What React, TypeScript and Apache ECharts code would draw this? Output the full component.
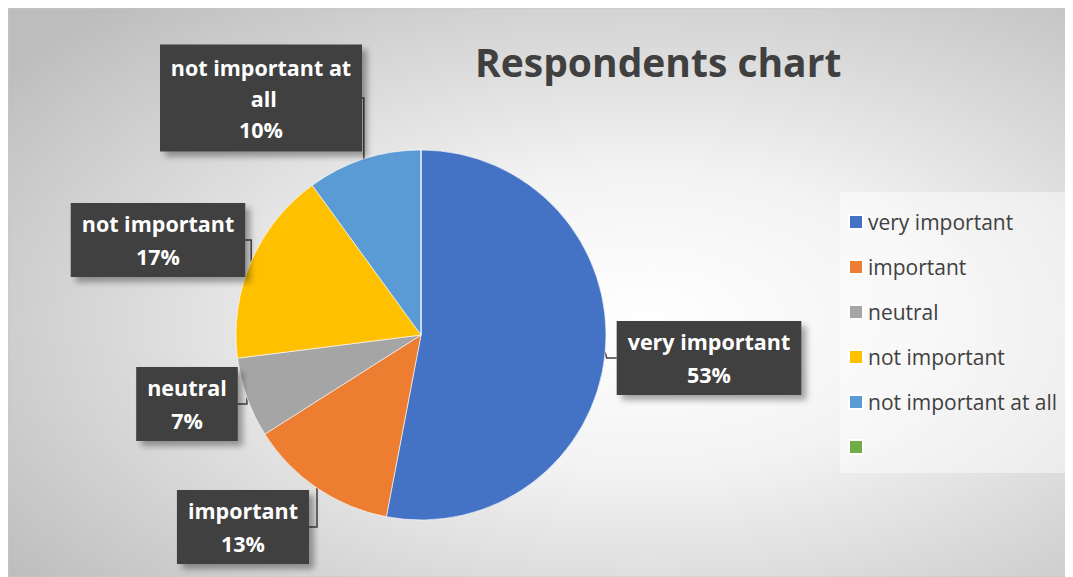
import React, { useEffect, useRef } from "react";
import * as echarts from "echarts";

const categories = ["very important", "important", "neutral", "not important", "not important at all", " "];
const values = [53, 13, 7, 17, 10, 0];
const colors = ["#4472C4", "#ED7D31", "#A5A5A5", "#FFC000", "#5B9BD5", "#70AD47"];
const titleText = "Respondents chart";

// label box centres (chart pixel coordinates)
const labelPos: [number, number][] = [
  [701, 350],
  [235, 519],
  [179, 396],
  [150, 232],
  [253, 90],
];

export default function App() {
  const ref = useRef<HTMLDivElement>(null);
  useEffect(() => {
    document.body.style.overflow = "hidden";
    const chart = echarts.init(ref.current!, undefined, { renderer: "svg" });
    const W = 1065;
    const H = 569;
    const font = "'Open Sans', 'Noto Sans', sans-serif";
    const data = categories.map((name, i) => {
      const item: any = { name, value: values[i], itemStyle: { color: colors[i] } };
      if (i === 4) {
        item.label = { width: 182, overflow: "break", lineHeight: 31, padding: [7, 10, 7, 10] };
      }
      if (i === 5) {
        item.label = { show: false };
        item.labelLine = { show: false };
      }
      return item;
    });
    chart.setOption({
      animation: false,
      graphic: [
        {
          type: "rect",
          z: -10,
          silent: true,
          shape: { x: 0, y: 0, width: W, height: H },
          style: {
            fill: new echarts.graphic.RadialGradient(0.6, 0.55, 0.75, [
              { offset: 0, color: "#ffffff" },
              { offset: 0.35, color: "#f3f3f3" },
              { offset: 1, color: "#bdbdbd" },
            ]),
            stroke: "#c8c8c8",
            lineWidth: 1,
          },
        },
      ],
      title: {
        text: titleText,
        left: 462,
        top: 29,
        textStyle: { fontFamily: font, fontSize: 39, fontWeight: "bold", color: "#404040" },
      },
      legend: {
        orient: "vertical",
        left: 832,
        top: 184,
        padding: [18, 12, 14, 8],
        backgroundColor: "rgba(255,255,255,0.45)",
        itemWidth: 14,
        itemHeight: 14,
        itemGap: 21,
        selectedMode: false,
        icon: "rect",
        data: categories,
        textStyle: { fontFamily: font, fontSize: 21, color: "#404040", lineHeight: 24 },
      },
      series: [
        {
          type: "pie",
          center: [413, 327],
          radius: [0, 185],
          startAngle: 90,
          clockwise: true,
          data,
          emphasis: { disabled: true },
          itemStyle: { borderColor: "#ffffff", borderWidth: 0.6 },
          label: {
            show: true,
            position: "outside",
            formatter: (p: any) => `${p.name}\n${p.value}%`,
            fontFamily: font,
            fontSize: 21.5,
            fontWeight: "bold",
            color: "#ffffff",
            lineHeight: 33,
            align: "center",
            backgroundColor: "#404040",
            padding: [4, 11, 4, 11],
            shadowColor: "rgba(0,0,0,0.35)",
            shadowBlur: 6,
            shadowOffsetX: 5,
            shadowOffsetY: 5,
          },
          labelLine: {
            show: true,
            length: 10,
            length2: 10,
            lineStyle: { color: "#404040", width: 1.5 },
          },
          labelLayout: (params: any) => {
            const pos = labelPos[params.dataIndex];
            if (!pos) return {};
            return { x: pos[0], y: pos[1], align: "center", verticalAlign: "middle" };
          },
        },
      ],
    });
    return () => chart.dispose();
  }, []);
  return <div ref={ref} style={{ width: 1065, height: 569 }} />;
}
